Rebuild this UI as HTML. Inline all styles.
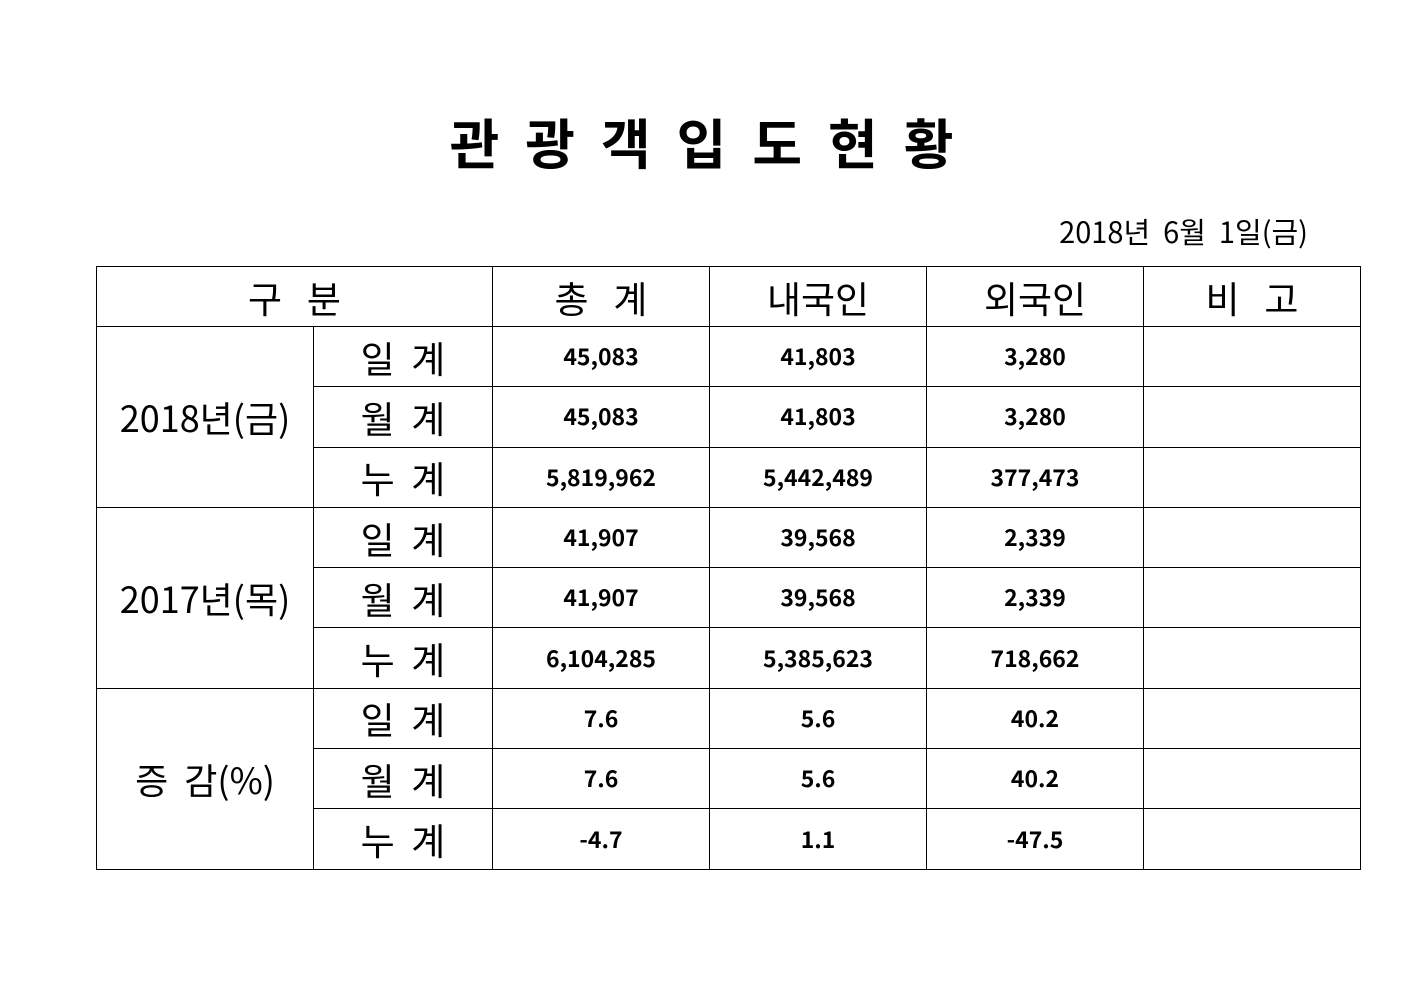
<!DOCTYPE html>
<html><head><meta charset="utf-8"><style>
body{margin:0;width:1403px;height:992px;background:#fff;position:relative;overflow:hidden;font-family:"Liberation Sans","Noto Sans CJK KR",sans-serif;color:#000}
.title{position:absolute;left:0;width:1403px;top:106px;text-align:center;font-family:"Noto Sans CJK KR",sans-serif;font-weight:bold;font-size:54px;letter-spacing:26px;line-height:70px;padding-left:26px;box-sizing:border-box}
.date{position:absolute;right:95px;top:211px;font-family:"Noto Sans CJK KR",sans-serif;font-size:29px;line-height:40px;white-space:pre}
table{position:absolute;left:96px;top:266px;border-collapse:collapse;table-layout:fixed}
td{border:1px solid #000;padding:0;text-align:center;height:59.3px;line-height:30px;font-family:"Noto Sans CJK KR",sans-serif;white-space:pre;overflow:hidden}
.h{font-size:37px;height:59px}
.g{font-size:36px}
.s{font-size:37px}
.n{font-weight:bold;font-size:23px;padding-bottom:3px;height:56.3px}
</style></head><body>
<div class="title">관광객입도현황</div>
<div class="date">2018년  6월  1일(금)</div>
<table>
<colgroup><col style="width:217px"><col style="width:179px"><col style="width:217px"><col style="width:217px"><col style="width:217px"><col style="width:217px"></colgroup>
<tr><td class="h" colspan="2">구   분</td><td class="h">총   계</td><td class="h">내국인</td><td class="h">외국인</td><td class="h">비   고</td></tr>
<tr><td class="g" rowspan="3">2018년(금)</td><td class="s">일  계</td><td class="n">45,083</td><td class="n">41,803</td><td class="n">3,280</td><td></td></tr>
<tr><td class="s">월  계</td><td class="n">45,083</td><td class="n">41,803</td><td class="n">3,280</td><td></td></tr>
<tr><td class="s">누  계</td><td class="n">5,819,962</td><td class="n">5,442,489</td><td class="n">377,473</td><td></td></tr>
<tr><td class="g" rowspan="3">2017년(목)</td><td class="s">일  계</td><td class="n">41,907</td><td class="n">39,568</td><td class="n">2,339</td><td></td></tr>
<tr><td class="s">월  계</td><td class="n">41,907</td><td class="n">39,568</td><td class="n">2,339</td><td></td></tr>
<tr><td class="s">누  계</td><td class="n">6,104,285</td><td class="n">5,385,623</td><td class="n">718,662</td><td></td></tr>
<tr><td class="g" rowspan="3">증  감(%)</td><td class="s">일  계</td><td class="n">7.6</td><td class="n">5.6</td><td class="n">40.2</td><td></td></tr>
<tr><td class="s">월  계</td><td class="n">7.6</td><td class="n">5.6</td><td class="n">40.2</td><td></td></tr>
<tr><td class="s">누  계</td><td class="n">-4.7</td><td class="n">1.1</td><td class="n">-47.5</td><td></td></tr>
</table>
</body></html>
